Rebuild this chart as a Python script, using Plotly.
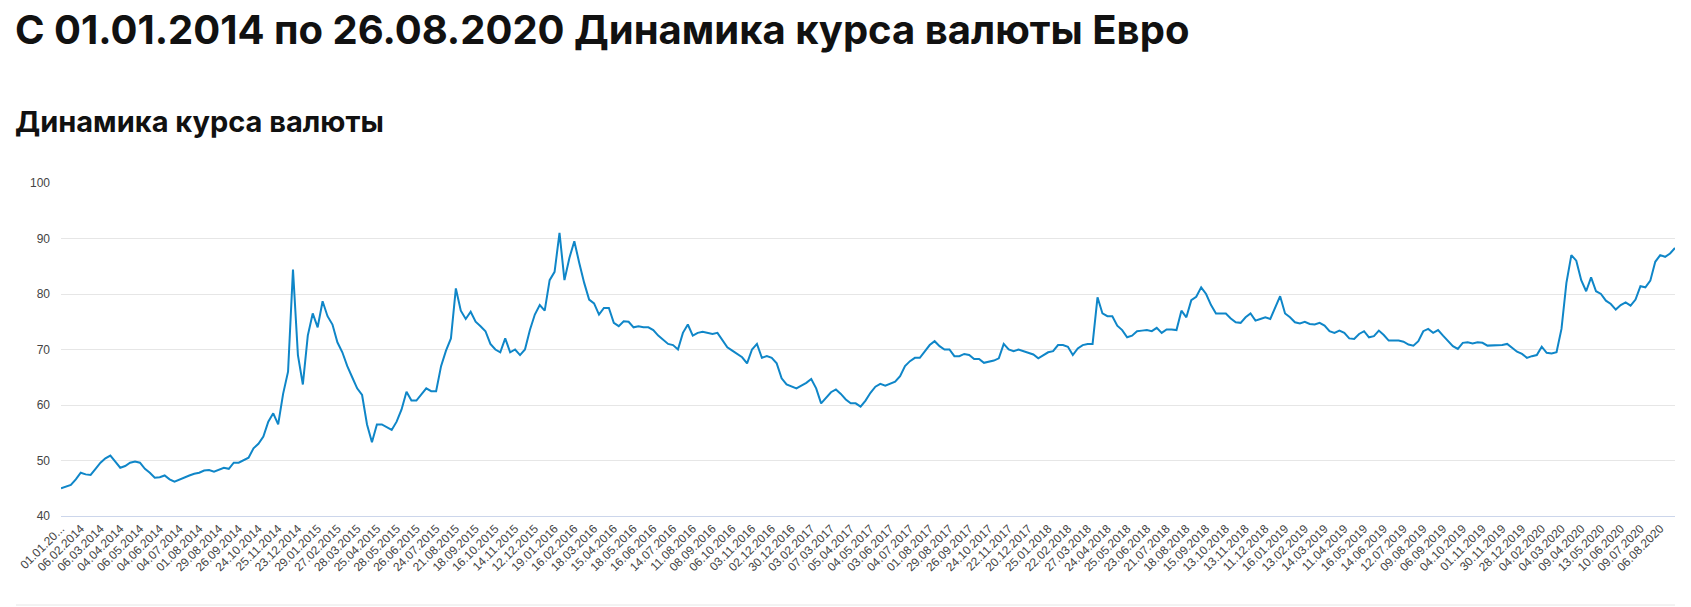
import plotly.graph_objects as go

# ── chart texts ──
TITLE = "С 01.01.2014 по 26.08.2020 Динамика курса валюты Евро"
SUBTITLE = "Динамика курса валюты"

# x axis labels: one every 20 trading days (CBR fixing dates)
tick_labels = [
    "01.01.20...", "06.02.2014", "06.03.2014", "04.04.2014", "06.05.2014",
    "04.06.2014", "04.07.2014", "01.08.2014", "29.08.2014", "26.09.2014",
    "24.10.2014", "25.11.2014", "23.12.2014", "29.01.2015", "27.02.2015",
    "28.03.2015", "25.04.2015", "28.05.2015", "26.06.2015", "24.07.2015",
    "21.08.2015", "18.09.2015", "16.10.2015", "14.11.2015", "12.12.2015",
    "19.01.2016", "16.02.2016", "18.03.2016", "15.04.2016", "18.05.2016",
    "16.06.2016", "14.07.2016", "11.08.2016", "08.09.2016", "06.10.2016",
    "03.11.2016", "02.12.2016", "30.12.2016", "03.02.2017", "07.03.2017",
    "05.04.2017", "04.05.2017", "03.06.2017", "04.07.2017", "01.08.2017",
    "29.08.2017", "26.09.2017", "24.10.2017", "22.11.2017", "20.12.2017",
    "25.01.2018", "22.02.2018", "27.03.2018", "24.04.2018", "25.05.2018",
    "23.06.2018", "21.07.2018", "18.08.2018", "15.09.2018", "13.10.2018",
    "13.11.2018", "11.12.2018", "16.01.2019", "13.02.2019", "14.03.2019",
    "11.04.2019", "16.05.2019", "14.06.2019", "12.07.2019", "09.08.2019",
    "06.09.2019", "04.10.2019", "01.11.2019", "30.11.2019", "28.12.2019",
    "04.02.2020", "04.03.2020", "09.04.2020", "13.05.2020", "10.06.2020",
    "09.07.2020", "06.08.2020",
]
LABEL_STEP = 20   # trading days between two labels
SAMPLE_STEP = 5   # one value per ~week (every 5 trading days)

# EUR rate, RUB, every 5 trading days (4 values per label)
eur_rate = [
    45.0, 45.3, 45.6, 46.6,  47.8, 47.5, 47.4, 48.5,  49.6, 50.4, 50.9, 49.8,
    48.7, 49.0, 49.6, 49.8,  49.6, 48.5, 47.8, 46.9,  47.0, 47.3, 46.6, 46.2,
    46.6, 47.0, 47.3, 47.6,  47.8, 48.2, 48.3, 48.0,  48.4, 48.7, 48.5, 49.6,
    49.6, 50.1, 50.5, 52.2,  53.0, 54.3, 57.0, 58.5,  56.5, 62.0, 66.0, 84.4,
    69.0, 63.7, 72.5, 76.5,  74.0, 78.7, 76.0, 74.5,  71.3, 69.5, 67.0, 65.0,
    63.0, 61.8, 56.5, 53.3,  56.5, 56.5, 56.0, 55.5,  57.0, 59.2, 62.4, 60.8,
    60.8, 61.8, 63.0, 62.5,  62.5, 67.0, 69.8, 72.0,  81.0, 77.0, 75.5, 76.8,
    75.0, 74.2, 73.3, 71.0,  70.0, 69.5, 72.0, 69.5,  70.0, 69.0, 70.0, 73.5,
    76.3, 78.0, 77.0, 82.5,  84.0, 91.0, 82.5, 86.5,  89.5, 85.6, 82.0, 79.0,
    78.3, 76.3, 77.5, 77.5,  74.8, 74.2, 75.1, 75.0,  74.0, 74.2, 74.0, 74.0,
    73.5, 72.5, 71.7, 71.0,  70.8, 70.0, 73.0, 74.5,  72.5, 73.0, 73.2, 73.0,
    72.8, 73.0, 71.8, 70.4,  69.8, 69.2, 68.6, 67.5,  70.0, 71.0, 68.5, 68.8,
    68.5, 67.5, 64.8, 63.7,  63.3, 63.0, 63.5, 64.0,  64.7, 63.0, 60.3, 61.3,
    62.3, 62.8, 62.0, 61.0,  60.3, 60.3, 59.7, 60.8,  62.2, 63.3, 63.8, 63.5,
    63.8, 64.2, 65.2, 67.0,  67.9, 68.5, 68.5, 69.7,  70.8, 71.5, 70.6, 70.0,
    70.0, 68.8, 68.8, 69.2,  69.0, 68.3, 68.3, 67.6,  67.8, 68.0, 68.4, 71.0,
    70.0, 69.7, 70.0, 69.7,  69.4, 69.1, 68.4, 69.0,  69.5, 69.7, 70.8, 70.8,
    70.5, 69.0, 70.2, 70.8,  71.0, 71.0, 79.4, 76.5,  76.0, 76.0, 74.3, 73.5,
    72.2, 72.5, 73.3, 73.4,  73.5, 73.3, 73.9, 73.0,  73.6, 73.6, 73.5, 77.0,
    75.8, 78.9, 79.5, 81.2,  80.0, 78.0, 76.5, 76.5,  76.5, 75.6, 74.9, 74.8,
    75.8, 76.5, 75.2, 75.5,  75.8, 75.5, 77.5, 79.6,  76.5, 75.8, 74.9, 74.7,
    75.0, 74.6, 74.5, 74.8,  74.3, 73.3, 73.0, 73.4,  73.0, 72.0, 71.9, 72.8,
    73.3, 72.2, 72.4, 73.4,  72.6, 71.6, 71.6, 71.6,  71.4, 70.9, 70.7, 71.5,
    73.3, 73.7, 73.0, 73.5,  72.5, 71.6, 70.6, 70.1,  71.2, 71.3, 71.1, 71.3,
    71.2, 70.7, 70.7, 70.7,  70.8, 71.0, 70.3, 69.6,  69.2, 68.5, 68.8, 69.0,
    70.5, 69.4, 69.3, 69.5,  73.7, 82.0, 87.0, 86.0,  82.5, 80.5, 83.0, 80.5,
    80.0, 78.8, 78.2, 77.2,  78.0, 78.5, 77.9, 79.0,  81.4, 81.2, 82.4, 85.8,
    87.0, 86.7, 87.3, 88.3,
]

# ── page geometry (px) ──
W, H = 1691, 607
ML, MR, MT, MB = 61, 16, 183, 91
PW, PH = W - ML - MR, H - MT - MB


def px_x(x):
    return (x - ML) / PW


def px_y(y):
    return (H - MB - y) / PH


fig = go.Figure()
fig.add_trace(go.Scatter(
    y=eur_rate, x0=0, dx=SAMPLE_STEP,
    mode="lines",
    line=dict(color="#0f86c8", width=2),
    hoverinfo="skip",
))

last_x = SAMPLE_STEP * (len(eur_rate) - 1)
tick_font = dict(family="Liberation Sans, Arial", size=12, color="#444")
fig.update_xaxes(
    range=[0, last_x],
    tickvals=[LABEL_STEP * i for i in range(len(tick_labels))],
    ticktext=tick_labels,
    tickangle=-45,
    tickfont=tick_font,
    showgrid=False, zeroline=False,
    showline=True, linecolor="#ccd6eb", linewidth=1,
    ticks="",
)
fig.update_yaxes(
    range=[40, 100], dtick=10,
    tickfont=tick_font,
    gridcolor="#e6e6e6", gridwidth=1,
    zeroline=False, showline=False, ticks="",
    ticklabelstandoff=10,
)

fig.add_annotation(
    text=TITLE, xref="paper", yref="paper",
    x=px_x(13), y=px_y(3), xanchor="left", yanchor="top",
    showarrow=False,
    font=dict(family="Inter", size=40, color="#111", weight=700),
)
fig.add_annotation(
    text=SUBTITLE, xref="paper", yref="paper",
    x=px_x(13), y=px_y(102), xanchor="left", yanchor="top",
    showarrow=False,
    font=dict(family="Inter", size=29, color="#111", weight=700),
)
# thin separator under the chart
fig.add_shape(
    type="line", xref="paper", yref="paper",
    x0=px_x(16), x1=1, y0=px_y(605), y1=px_y(605),
    line=dict(color="#e6e6e6", width=1),
)

fig.update_layout(
    width=W, height=H,
    margin=dict(l=ML, r=MR, t=MT, b=MB),
    paper_bgcolor="white", plot_bgcolor="white",
    showlegend=False,
)

fig.write_html("out.html",
               config={"displayModeBar": False},
               post_script="document.body.style.margin='0';"
                           "document.body.style.overflow='hidden';")
